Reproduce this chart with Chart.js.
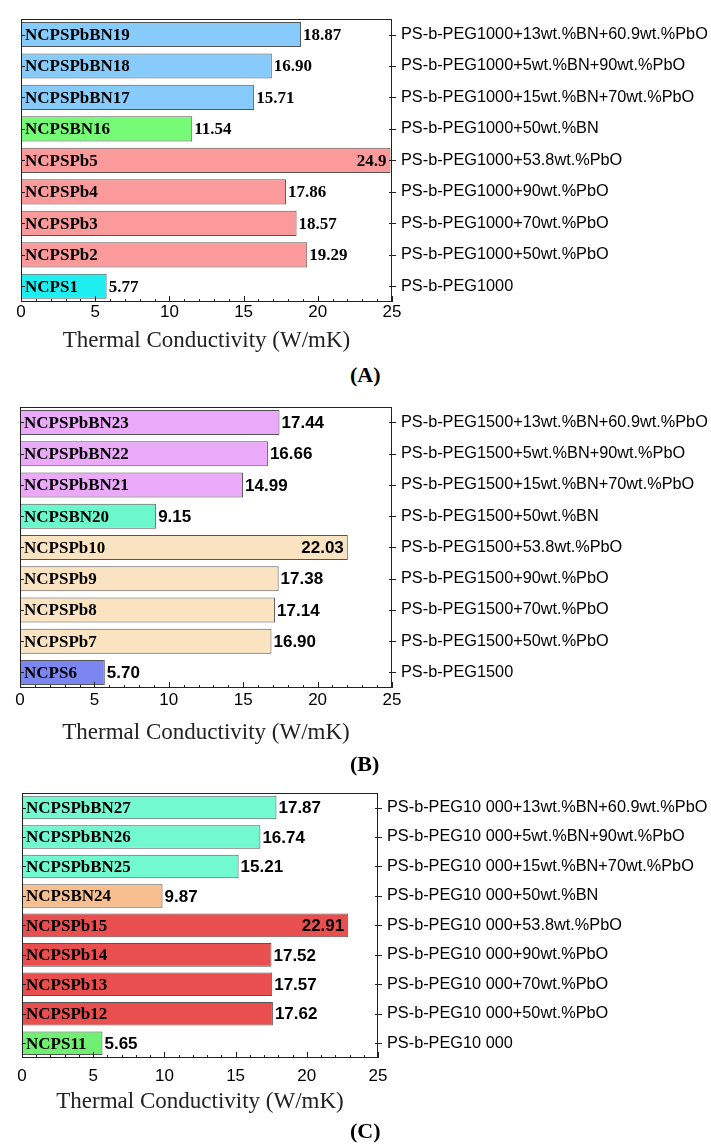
<!DOCTYPE html>
<html>
<head>
<meta charset="utf-8">
<script src="https://cdn.jsdelivr.net/npm/chart.js@4.4.0/dist/chart.umd.min.js"></script>
<style>
  body { margin: 0; background: #fff; width: 711px; height: 1144px; position: relative; overflow: hidden; }
  .panel { position: absolute; left: 0; }
  .tag { position: absolute; left: 350px; font: bold 22px "Liberation Serif"; color: #000; }
</style>
</head>
<body>
<div class="panel" style="top:0"><canvas id="chartA" width="711" height="360"></canvas></div>
<div class="panel" style="top:388px"><canvas id="chartB" width="711" height="362"></canvas></div>
<div class="panel" style="top:774px"><canvas id="chartC" width="711" height="345"></canvas></div>
<div class="tag" style="top:362px">(A)</div>
<div class="tag" style="top:751px">(B)</div>
<div class="tag" style="top:1118px">(C)</div>
<script>
// panel A - PS-b-PEG1000
var samplesA = ["NCPSPbBN19", "NCPSPbBN18", "NCPSPbBN17", "NCPSBN16", "NCPSPb5", "NCPSPb4", "NCPSPb3", "NCPSPb2", "NCPS1"];
var valuesA = [18.87, 16.90, 15.71, 11.54, 24.9, 17.86, 18.57, 19.29, 5.77];
var valueTextA = ["18.87", "16.90", "15.71", "11.54", "24.9", "17.86", "18.57", "19.29", "5.77"];
var compositionsA = [
  "PS-b-PEG1000+13wt.%BN+60.9wt.%PbO",
  "PS-b-PEG1000+5wt.%BN+90wt.%PbO",
  "PS-b-PEG1000+15wt.%BN+70wt.%PbO",
  "PS-b-PEG1000+50wt.%BN",
  "PS-b-PEG1000+53.8wt.%PbO",
  "PS-b-PEG1000+90wt.%PbO",
  "PS-b-PEG1000+70wt.%PbO",
  "PS-b-PEG1000+50wt.%PbO",
  "PS-b-PEG1000"
];

// panel B - PS-b-PEG1500
var samplesB = ["NCPSPbBN23", "NCPSPbBN22", "NCPSPbBN21", "NCPSBN20", "NCPSPb10", "NCPSPb9", "NCPSPb8", "NCPSPb7", "NCPS6"];
var valuesB = [17.44, 16.66, 14.99, 9.15, 22.03, 17.38, 17.14, 16.90, 5.70];
var valueTextB = ["17.44", "16.66", "14.99", "9.15", "22.03", "17.38", "17.14", "16.90", "5.70"];
var compositionsB = [
  "PS-b-PEG1500+13wt.%BN+60.9wt.%PbO",
  "PS-b-PEG1500+5wt.%BN+90wt.%PbO",
  "PS-b-PEG1500+15wt.%BN+70wt.%PbO",
  "PS-b-PEG1500+50wt.%BN",
  "PS-b-PEG1500+53.8wt.%PbO",
  "PS-b-PEG1500+90wt.%PbO",
  "PS-b-PEG1500+70wt.%PbO",
  "PS-b-PEG1500+50wt.%PbO",
  "PS-b-PEG1500"
];

// panel C - PS-b-PEG10 000
var samplesC = ["NCPSPbBN27", "NCPSPbBN26", "NCPSPbBN25", "NCPSBN24", "NCPSPb15", "NCPSPb14", "NCPSPb13", "NCPSPb12", "NCPS11"];
var valuesC = [17.87, 16.74, 15.21, 9.87, 22.91, 17.52, 17.57, 17.62, 5.65];
var valueTextC = ["17.87", "16.74", "15.21", "9.87", "22.91", "17.52", "17.57", "17.62", "5.65"];
var compositionsC = [
  "PS-b-PEG10 000+13wt.%BN+60.9wt.%PbO",
  "PS-b-PEG10 000+5wt.%BN+90wt.%PbO",
  "PS-b-PEG10 000+15wt.%BN+70wt.%PbO",
  "PS-b-PEG10 000+50wt.%BN",
  "PS-b-PEG10 000+53.8wt.%PbO",
  "PS-b-PEG10 000+90wt.%PbO",
  "PS-b-PEG10 000+70wt.%PbO",
  "PS-b-PEG10 000+50wt.%PbO",
  "PS-b-PEG10 000"
];

var xTicks = [0, 5, 10, 15, 20, 25];
var axisTitle = "Thermal Conductivity (W/mK)";

var colorsA = ["#87cbfa", "#87cbfa", "#87cbfa", "#77fb77", "#fa9a9a", "#fa9a9a", "#fa9a9a", "#fa9a9a", "#1eeef0"];
var colorsB = ["#eaaaf9", "#eaaaf9", "#eaaaf9", "#6cf8cc", "#f9e3c0", "#f9e3c0", "#f9e3c0", "#f9e3c0", "#7b86f0"];
var colorsC = ["#73f9d0", "#73f9d0", "#73f9d0", "#f7bf90", "#ea4f4f", "#ea4f4f", "#ea4f4f", "#ea4f4f", "#70f070"];

// frame, inward ticks, names inside bars, value labels
var decor = {
  id: "decor",
  afterDatasetsDraw: function (chart, args, opts) {
    var ctx = chart.ctx;
    var a = chart.chartArea;
    var x = chart.scales.x;
    var y = chart.scales.y;
    ctx.save();
    ctx.strokeStyle = "#222";
    ctx.lineWidth = 1;
    ctx.strokeRect(Math.round(a.left) + 0.5, Math.round(a.top) + 0.5, Math.round(a.right - a.left) - 1, Math.round(a.bottom - a.top) - 1);
    ctx.beginPath();
    for (var v = x.min; v <= x.max; v++) {
      var px = Math.round(x.getPixelForValue(v)) + 0.5;
      var len = v % 5 === 0 ? 6 : 3;
      ctx.moveTo(px, a.bottom);
      ctx.lineTo(px, a.bottom - len);
    }
    chart.data.labels.forEach(function (lab, i) {
      var py = Math.round(y.getPixelForValue(i)) + 0.5;
      ctx.moveTo(a.left, py);
      ctx.lineTo(a.left + 4, py);
      ctx.moveTo(a.right - 3, py);
      ctx.lineTo(a.right + 4, py);
    });
    ctx.stroke();

    var vals = chart.data.datasets[0].data;
    var maxV = Math.max.apply(null, vals);
    chart.getDatasetMeta(0).data.forEach(function (bar, i) {
      ctx.fillStyle = "#000";
      ctx.textBaseline = "middle";
      ctx.textAlign = "left";
      ctx.font = "bold 17px 'Liberation Serif'";
      ctx.fillText(chart.data.labels[i], a.left + 4, bar.y + 1);
      ctx.font = opts.valueFont;
      if (vals[i] === maxV) {
        ctx.textAlign = "right";
        ctx.fillText(opts.valueText[i], bar.x - 4, bar.y + 1);
      } else {
        ctx.fillText(opts.valueText[i], bar.x + 2, bar.y + 1);
      }
    });
    ctx.restore();
  }
};

function makePanel(id, samples, values, valueText, compositions, colors, p) {
  var ctx = document.getElementById(id).getContext("2d");
  return new Chart(ctx, {
    type: "bar",
    data: {
      labels: samples,
      datasets: [{
        data: values,
        backgroundColor: colors,
        borderColor: "#555",
        borderWidth: 1,
        borderSkipped: false,
        barPercentage: 0.8,
        categoryPercentage: 1
      }]
    },
    options: {
      indexAxis: "y",
      responsive: false,
      animation: false,
      devicePixelRatio: 1,
      layout: { padding: { top: p.top, left: p.left, right: 0, bottom: 0 } },
      plugins: {
        legend: { display: false },
        tooltip: { enabled: false },
        decor: { valueText: valueText, valueFont: p.valueFont }
      },
      scales: {
        x: {
          min: xTicks[0],
          max: xTicks[xTicks.length - 1],
          grid: { display: false, drawTicks: false },
          border: { display: false },
          afterBuildTicks: function (s) { s.ticks = xTicks.map(function (t) { return { value: t }; }); },
          ticks: { padding: p.tickPad, color: "#000", font: { family: "Liberation Sans", size: 17 } },
          title: {
            display: true,
            text: axisTitle,
            color: "#222",
            font: { family: "Liberation Serif", size: 23 },
            padding: { top: 0, bottom: p.titlePad }
          },
          afterFit: function (s) { s.height = p.xHeight; }
        },
        y: { display: false },
        y2: {
          type: "category",
          labels: compositions,
          position: "right",
          offset: true,
          grid: { display: false, drawTicks: false },
          border: { display: false },
          ticks: { padding: 9, color: "#000", font: { family: "Liberation Sans", size: 16.3 } },
          afterFit: function (s) { s.width = p.rightWidth; }
        }
      }
    },
    plugins: [decor]
  });
}

makePanel("chartA", samplesA, valuesA, valueTextA, compositionsA, colorsA,
  { top: 6, left: 21, rightWidth: 319, xHeight: 58, tickPad: 0, titlePad: 5, valueFont: "bold 17px 'Liberation Serif'" });
makePanel("chartB", samplesB, valuesB, valueTextB, compositionsB, colorsB,
  { top: 6, left: 20, rightWidth: 319, xHeight: 62, tickPad: 2, titlePad: 3, valueFont: "bold 17px 'Liberation Sans'" });
makePanel("chartC", samplesC, valuesC, valueTextC, compositionsC, colorsC,
  { top: 6, left: 22, rightWidth: 333, xHeight: 61, tickPad: 8, titlePad: 3, valueFont: "bold 17px 'Liberation Sans'" });
</script>
</body>
</html>
